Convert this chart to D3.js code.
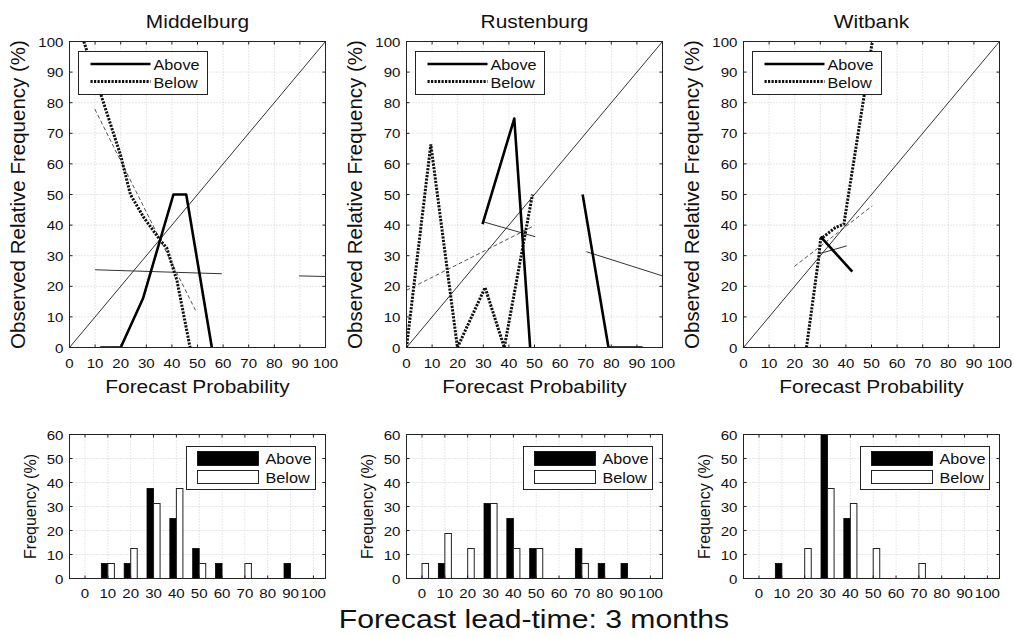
<!DOCTYPE html>
<html>
<head>
<meta charset="utf-8">
<script src="https://cdn.jsdelivr.net/npm/d3@7"></script>
<style>
body { margin: 0; background: #fff; }
text { font-family: "Liberation Sans", Arial, Helvetica, sans-serif; fill: #111; }
</style>
</head>
<body>
<div id="graphicContainer"></div>
<script>

var stations = ["Middelburg", "Rustenburg", "Witbank"]
var probTicks = d3.range(0, 101, 10)
var freqTicks = d3.range(0, 61, 10)
var legendLabels = ["Above", "Below"]

// reliability curves: [forecast prob, observed freq], split where there is a gap
var aboveObs = [
	[[[12, 0], [20, 0], [28.7, 16], [40.6, 50], [45.6, 50], [55.6, 0]]],
	[[[29.7, 40.3], [42.1, 74.8], [48.3, 0]], [[68.8, 50], [78.9, 0], [92.2, 0]]],
	[[[30.1, 36.2], [42.5, 24.8]]]
]

var belowObs = [
	[[[5.6, 100], [12.7, 81.5], [19.9, 63], [23.8, 50], [29, 42.5], [35.5, 35], [38, 32.5], [42, 21.8], [47.1, 0]]],
	[[[0, 0], [9.5, 66.4], [19.9, 0], [30.7, 19.6], [38.2, 0], [49.2, 50]]],
	[[[24.6, 0], [29.4, 29.4], [30.1, 35.4], [35.9, 39.2], [39.2, 40.3], [47, 81.7], [50.3, 100]]]
]

// fitted lines
var aboveFit = [
	[[[10, 25.4], [59.5, 24.1]], [[89.7, 23.4], [100, 23.2]]],
	[[[29.9, 41.1], [50.3, 36.2]], [[70.3, 31.3], [100, 23.4]]],
	[[[29.8, 30.7], [40.3, 33.2]]]
]

var belowFit = [
	[[[9.9, 77.9], [49.5, 11.7]]],
	[[[0, 18.7], [49.9, 39.8]]],
	[[[19.9, 26.5], [50.3, 46.3]]]
]

// forecast frequency histograms (%)
var bins = d3.range(0, 101, 10)
var aboveFreq = [
	[0, 6.25, 6.25, 37.5, 25, 12.5, 6.25, 0, 0, 6.25, 0],
	[0, 6.25, 0, 31.25, 25, 12.5, 0, 12.5, 6.25, 6.25, 0],
	[0, 6.25, 0, 68.75, 25, 0, 0, 0, 0, 0, 0]
]
var belowFreq = [
	[0, 6.25, 12.5, 31.25, 37.5, 6.25, 0, 6.25, 0, 0, 0],
	[6.25, 18.75, 12.5, 31.25, 12.5, 12.5, 0, 6.25, 0, 0, 0],
	[0, 0, 12.5, 37.5, 31.25, 12.5, 0, 6.25, 0, 0, 0]
]

var width = 1014
var height = 637
var lefts = [69.5, 406.5, 743.5]
var panelW = 256
var topY = 41.5, topH = 306
var botY = 434.5, botH = 144
var sx = 1.16
var barW = 2.86

var svg = d3.select("#graphicContainer").append("svg")
	.attr("width", width)
	.attr("height", height)

var defs = svg.append("defs")

function stretchText(g, x, y, str, size, anchor) {
	return g.append("text")
		.attr("transform", "translate(" + x + "," + y + ") scale(" + sx + ",1)")
		.attr("font-size", size)
		.attr("text-anchor", anchor || "middle")
		.text(str)
}

var line = d3.line()

stations.forEach(function(name, i) {

	var left = lefts[i]

	// ---- reliability diagram ----

	var x = d3.scaleLinear().domain([0, 100]).range([left, left + panelW])
	var y = d3.scaleLinear().domain([0, 100]).range([topY + topH, topY])

	var clipId = "clipTop" + i
	defs.append("clipPath").attr("id", clipId)
		.append("rect").attr("x", left).attr("y", topY).attr("width", panelW).attr("height", topH)

	var g = svg.append("g")

	var grid = g.append("g").attr("stroke", "#c4c4c4").attr("stroke-width", 0.8).attr("stroke-dasharray", "1,2")
	grid.selectAll(".gx").data(probTicks.slice(1, -1)).enter().append("line")
		.attr("x1", d => x(d)).attr("x2", d => x(d)).attr("y1", topY).attr("y2", topY + topH)
	grid.selectAll(".gy").data(probTicks.slice(1, -1)).enter().append("line")
		.attr("y1", d => y(d)).attr("y2", d => y(d)).attr("x1", left).attr("x2", left + panelW)

	var plot = g.append("g").attr("clip-path", "url(#" + clipId + ")").attr("fill", "none")

	plot.append("path")
		.attr("d", line([[x(0), y(0)], [x(100), y(100)]]))
		.attr("stroke", "#333").attr("stroke-width", 1)

	plot.selectAll(".afit").data(aboveFit[i]).enter().append("path")
		.attr("d", d => line(d.map(p => [x(p[0]), y(p[1])])))
		.attr("stroke", "#333").attr("stroke-width", 1)

	plot.selectAll(".bfit").data(belowFit[i]).enter().append("path")
		.attr("d", d => line(d.map(p => [x(p[0]), y(p[1])])))
		.attr("stroke", "#444").attr("stroke-width", 0.9).attr("stroke-dasharray", "4,2.5")

	plot.selectAll(".bobs").data(belowObs[i]).enter().append("path")
		.attr("d", d => line(d.map(p => [x(p[0]), y(p[1])])))
		.attr("stroke", "#111").attr("stroke-width", 3).attr("stroke-dasharray", "2.2,1.3")

	plot.selectAll(".aobs").data(aboveObs[i]).enter().append("path")
		.attr("d", d => line(d.map(p => [x(p[0]), y(p[1])])))
		.attr("stroke", "#000").attr("stroke-width", 2.6).attr("stroke-linejoin", "round")

	// legend
	var lx = left + 9, ly = topY + 10
	var leg = g.append("g")
	leg.append("rect").attr("x", lx).attr("y", ly).attr("width", 129).attr("height", 43)
		.attr("fill", "#fff").attr("stroke", "#222").attr("stroke-width", 1)
	leg.append("line").attr("x1", lx + 12).attr("x2", lx + 72).attr("y1", ly + 12.5).attr("y2", ly + 12.5)
		.attr("stroke", "#000").attr("stroke-width", 2.6)
	leg.append("line").attr("x1", lx + 12).attr("x2", lx + 72).attr("y1", ly + 30).attr("y2", ly + 30)
		.attr("stroke", "#111").attr("stroke-width", 3).attr("stroke-dasharray", "2.2,1.3")
	stretchText(leg, lx + 75, ly + 18, legendLabels[0], 14, "start")
	stretchText(leg, lx + 75, ly + 36.5, legendLabels[1], 14, "start")

	// frame and inward ticks
	g.append("rect").attr("x", left).attr("y", topY).attr("width", panelW).attr("height", topH)
		.attr("fill", "none").attr("stroke", "#222").attr("stroke-width", 1)
	var ticks = g.append("g").attr("stroke", "#222").attr("stroke-width", 1)
	probTicks.forEach(function(t) {
		ticks.append("line").attr("x1", x(t)).attr("x2", x(t)).attr("y1", topY + topH).attr("y2", topY + topH - 3)
		ticks.append("line").attr("x1", x(t)).attr("x2", x(t)).attr("y1", topY).attr("y2", topY + 3)
		ticks.append("line").attr("y1", y(t)).attr("y2", y(t)).attr("x1", left).attr("x2", left + 3)
		ticks.append("line").attr("y1", y(t)).attr("y2", y(t)).attr("x1", left + panelW).attr("x2", left + panelW - 3)
	})

	probTicks.forEach(function(t) {
		stretchText(g, x(t), topY + topH + 20, t, 13, "middle")
		stretchText(g, left - 6, y(t) + 5, t, 13, "end")
	})

	stretchText(g, left + panelW / 2, 28, name, 18, "middle")
	stretchText(g, left + panelW / 2, 393, "Forecast Probability", 18, "middle")

	g.append("text")
		.attr("transform", "translate(" + (left - 45) + "," + (topY + topH / 2) + ") rotate(-90)")
		.attr("text-anchor", "middle")
		.attr("font-size", 20.5)
		.text("Observed Relative Frequency (%)")

	// ---- sharpness histogram ----

	var hx = d3.scaleLinear().domain([-6.8, 105.3]).range([left, left + panelW])
	var hy = d3.scaleLinear().domain([0, 60]).range([botY + botH, botY])

	var clipB = "clipBot" + i
	defs.append("clipPath").attr("id", clipB)
		.append("rect").attr("x", left).attr("y", botY).attr("width", panelW).attr("height", botH)

	var h = svg.append("g")

	var hgrid = h.append("g").attr("stroke", "#c4c4c4").attr("stroke-width", 0.8).attr("stroke-dasharray", "1,2")
	hgrid.selectAll(".gx").data(bins).enter().append("line")
		.attr("x1", d => hx(d)).attr("x2", d => hx(d)).attr("y1", botY).attr("y2", botY + botH)
	hgrid.selectAll(".gy").data(freqTicks.slice(1, -1)).enter().append("line")
		.attr("y1", d => hy(d)).attr("y2", d => hy(d)).attr("x1", left).attr("x2", left + panelW)

	var bars = h.append("g").attr("clip-path", "url(#" + clipB + ")")

	bars.selectAll(".ab").data(bins.map((b, k) => [b, aboveFreq[i][k]]).filter(d => d[1] > 0)).enter().append("rect")
		.attr("x", d => hx(d[0] - barW)).attr("width", d => hx(d[0]) - hx(d[0] - barW))
		.attr("y", d => hy(d[1])).attr("height", d => hy(0) - hy(d[1]))
		.attr("fill", "#000").attr("stroke", "#000").attr("stroke-width", 0.8)

	bars.selectAll(".bb").data(bins.map((b, k) => [b, belowFreq[i][k]]).filter(d => d[1] > 0)).enter().append("rect")
		.attr("x", d => hx(d[0])).attr("width", d => hx(d[0] + barW) - hx(d[0]))
		.attr("y", d => hy(d[1])).attr("height", d => hy(0) - hy(d[1]))
		.attr("fill", "#fff").attr("stroke", "#222").attr("stroke-width", 1)

	// legend
	var bx = left + panelW - 10 - 129, by = botY + 12
	var hl = h.append("g")
	hl.append("rect").attr("x", bx).attr("y", by).attr("width", 129).attr("height", 43)
		.attr("fill", "#fff").attr("stroke", "#222").attr("stroke-width", 1)
	hl.append("rect").attr("x", bx + 11).attr("y", by + 5).attr("width", 61).attr("height", 14)
		.attr("fill", "#000").attr("stroke", "#000").attr("stroke-width", 0.8)
	hl.append("rect").attr("x", bx + 11).attr("y", by + 24).attr("width", 61).attr("height", 13)
		.attr("fill", "#fff").attr("stroke", "#222").attr("stroke-width", 1)
	stretchText(hl, bx + 79, by + 17.5, legendLabels[0], 14, "start")
	stretchText(hl, bx + 79, by + 36, legendLabels[1], 14, "start")

	h.append("rect").attr("x", left).attr("y", botY).attr("width", panelW).attr("height", botH)
		.attr("fill", "none").attr("stroke", "#222").attr("stroke-width", 1)
	var hticks = h.append("g").attr("stroke", "#222").attr("stroke-width", 1)
	bins.forEach(function(t) {
		hticks.append("line").attr("x1", hx(t)).attr("x2", hx(t)).attr("y1", botY + botH).attr("y2", botY + botH - 3)
		hticks.append("line").attr("x1", hx(t)).attr("x2", hx(t)).attr("y1", botY).attr("y2", botY + 3)
		stretchText(h, hx(t), botY + botH + 19, t, 13, "middle")
	})
	freqTicks.forEach(function(t) {
		hticks.append("line").attr("y1", hy(t)).attr("y2", hy(t)).attr("x1", left).attr("x2", left + 3)
		hticks.append("line").attr("y1", hy(t)).attr("y2", hy(t)).attr("x1", left + panelW).attr("x2", left + panelW - 3)
		stretchText(h, left - 6, hy(t) + 5, t, 13, "end")
	})

	h.append("text")
		.attr("transform", "translate(" + (left - 34) + "," + (botY + botH / 2) + ") rotate(-90)")
		.attr("text-anchor", "middle")
		.attr("font-size", 16)
		.text("Frequency (%)")
})

stretchText(svg, 534, 628, "Forecast lead-time: 3 months", 26, "middle")

</script>
</body>
</html>
